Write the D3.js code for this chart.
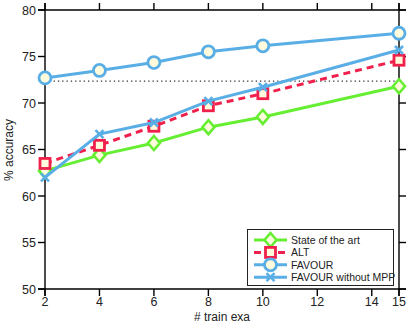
<!doctype html>
<html>
<head>
<meta charset="utf-8">
<script src="https://d3js.org/d3.v7.min.js"></script>
<style>
  body { margin: 0; background: #fff; }
  text { font-family: "Liberation Sans", Arial, sans-serif; }
</style>
</head>
<body>
<svg width="415" height="329"></svg>
<script>
// data
var trainExa = [2, 4, 6, 8, 10, 15];
var stateOfArt = [62.7, 64.4, 65.7, 67.4, 68.5, 71.8];
var alt = [63.5, 65.45, 67.5, 69.7, 71.0, 74.6];
var favour = [72.7, 73.5, 74.35, 75.5, 76.15, 77.5];
var favourNoMpp = [62.0, 66.65, 67.9, 70.2, 71.7, 75.7];
var baseline = 72.35;
var xTicks = [2, 4, 6, 8, 10, 12, 14, 15];
var yTicks = [50, 55, 60, 65, 70, 75, 80];

var series = [
  { name: "State of the art", values: stateOfArt, color: "#66ee33", dash: null, marker: "diamond" },
  { name: "ALT", values: alt, color: "#f0204c", dash: "7,5", marker: "square" },
  { name: "FAVOUR", values: favour, color: "#5aaee6", dash: null, marker: "circle" },
  { name: "FAVOUR without MPP", values: favourNoMpp, color: "#5aaee6", dash: null, marker: "cross" }
];

var svg = d3.select("svg");
var pLeft = 45, pRight = 399, pTop = 10, pBottom = 289;

var x = d3.scaleLinear().domain([2, 15]).range([pLeft, pRight]);
var y = d3.scaleLinear().domain([50, 80]).range([pBottom, pTop]);

// frame, lines run a bit past the corners
var ext = 7;
var frame = svg.append("g").attr("stroke", "#000").attr("stroke-width", 1.4);
frame.append("line").attr("x1", pLeft - ext).attr("x2", pRight + ext).attr("y1", pBottom).attr("y2", pBottom);
frame.append("line").attr("x1", pLeft - ext).attr("x2", pRight + ext).attr("y1", pTop).attr("y2", pTop);
frame.append("line").attr("x1", pLeft).attr("x2", pLeft).attr("y1", pTop - ext).attr("y2", pBottom + ext);
frame.append("line").attr("x1", pRight).attr("x2", pRight).attr("y1", pTop - ext).attr("y2", pBottom + ext);

// ticks (outward on all sides)
var tlen = 7;
xTicks.forEach(function (t) {
  frame.append("line").attr("x1", x(t)).attr("x2", x(t)).attr("y1", pBottom).attr("y2", pBottom + tlen);
  frame.append("line").attr("x1", x(t)).attr("x2", x(t)).attr("y1", pTop).attr("y2", pTop - tlen);
});
yTicks.forEach(function (t) {
  frame.append("line").attr("x1", pLeft).attr("x2", pLeft - tlen).attr("y1", y(t)).attr("y2", y(t));
  frame.append("line").attr("x1", pRight).attr("x2", pRight + tlen).attr("y1", y(t)).attr("y2", y(t));
});

svg.append("g").selectAll("text").data(xTicks).enter().append("text")
  .attr("x", function (d) { return x(d); })
  .attr("y", 306)
  .attr("text-anchor", "middle")
  .attr("font-size", 12.5)
  .attr("fill", "#222")
  .text(function (d) { return d; });

svg.append("g").selectAll("text").data(yTicks).enter().append("text")
  .attr("x", 36)
  .attr("y", function (d) { return y(d) + 4.5; })
  .attr("text-anchor", "end")
  .attr("font-size", 12.5)
  .attr("fill", "#222")
  .text(function (d) { return d; });

svg.append("text").attr("x", 222).attr("y", 321).attr("text-anchor", "middle")
  .attr("font-size", 12).attr("fill", "#222").text("# train exa");
svg.append("text").attr("transform", "translate(13,150) rotate(-90)").attr("text-anchor", "middle")
  .attr("font-size", 12).attr("fill", "#222").text("% accuracy");

// dotted baseline
svg.append("line")
  .attr("x1", x(2)).attr("x2", x(15)).attr("y1", y(baseline)).attr("y2", y(baseline))
  .attr("stroke", "#333").attr("stroke-width", 1.3).attr("stroke-dasharray", "1.3,3");

var line = d3.line()
  .x(function (d, i) { return x(trainExa[i]); })
  .y(function (d) { return y(d); });

function drawMarker(g, kind, cx, cy, color) {
  if (kind === "circle") {
    g.append("circle").attr("cx", cx).attr("cy", cy).attr("r", 6)
      .attr("fill", "#fffbdc").attr("stroke", color).attr("stroke-width", 2.8);
  } else if (kind === "square") {
    g.append("rect").attr("x", cx - 5).attr("y", cy - 5).attr("width", 10).attr("height", 10)
      .attr("fill", "#fffbdc").attr("stroke", color).attr("stroke-width", 2.8);
  } else if (kind === "diamond") {
    g.append("path").attr("d", "M" + cx + "," + (cy - 7) + "L" + (cx + 6) + "," + cy + "L" + cx + "," + (cy + 7) + "L" + (cx - 6) + "," + cy + "Z")
      .attr("fill", "#fffbdc").attr("stroke", color).attr("stroke-width", 2.6);
  } else if (kind === "cross") {
    var s = 4;
    g.append("path").attr("d", "M" + (cx - s) + "," + (cy - s) + "L" + (cx + s) + "," + (cy + s) + "M" + (cx + s) + "," + (cy - s) + "L" + (cx - s) + "," + (cy + s))
      .attr("stroke", color).attr("stroke-width", 2.6).attr("fill", "none");
  }
}

series.forEach(function (s) {
  var g = svg.append("g");
  g.append("path").datum(s.values).attr("d", line)
    .attr("fill", "none").attr("stroke", s.color).attr("stroke-width", 3)
    .attr("stroke-dasharray", s.dash);
  s.values.forEach(function (v, i) {
    drawMarker(g, s.marker, x(trainExa[i]), y(v), s.color);
  });
});

// legend
var lg = svg.append("g");
lg.append("rect").attr("x", 247.5).attr("y", 229.5).attr("width", 146).attr("height", 56)
  .attr("fill", "#fff").attr("stroke", "#222").attr("stroke-width", 1);
series.forEach(function (s, i) {
  var ly = 240 + i * 12.4;
  lg.append("line").attr("x1", 254).attr("x2", 287).attr("y1", ly).attr("y2", ly)
    .attr("stroke", s.color).attr("stroke-width", 3).attr("stroke-dasharray", s.dash);
  drawMarker(lg, s.marker, 270.5, ly, s.color);
  lg.append("text").attr("x", 291).attr("y", ly + 3.8).attr("font-size", 10.5)
    .attr("fill", "#222").text(s.name);
});
</script>
</body>
</html>
